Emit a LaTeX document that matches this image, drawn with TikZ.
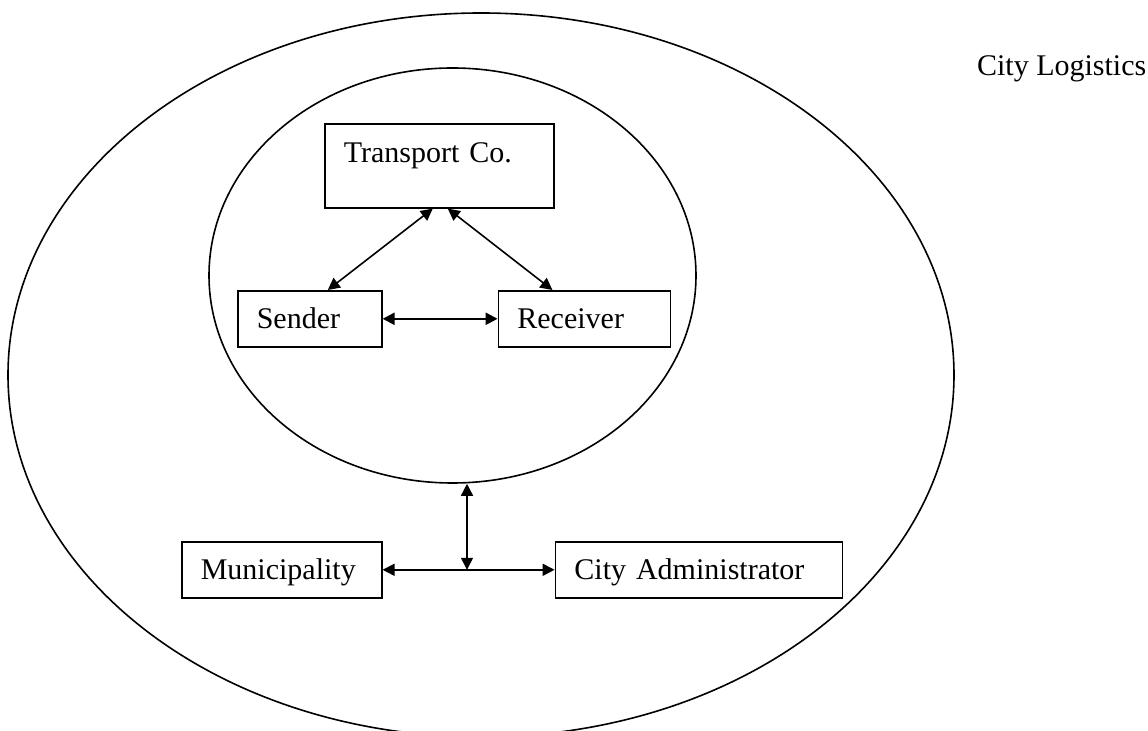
\documentclass[tikz,border=0pt]{standalone}
\usepackage{fontspec}
\setmainfont{Liberation Serif}
\usetikzlibrary{arrows.meta,shapes.geometric,positioning}
\tikzset{
    actor-box/.style = {draw, rectangle, line width=0.8pt, anchor=north west, align=left, inner xsep=9.5pt, inner ysep=0pt, text height=19pt, text depth=9pt},
    zone-ellipse/.style = {draw, ellipse, line width=0.8pt, inner sep=0pt},
    link-arrow/.style = {<->, >={Triangle[length=6pt,width=6pt]}, line width=0.8pt},
}

\begin{document}
\begin{tikzpicture}[x=0.5pt, y=-0.5pt, font=\fontsize{15}{18}\selectfont]
\useasboundingbox (0,0) rectangle (1148,731);
\clip (0,0) rectangle (1148,731);
\node[zone-ellipse, minimum width=473pt, minimum height=362pt] (outer) at (481,375) {};
\node[zone-ellipse, minimum width=243.5pt, minimum height=207.5pt] (inner) at (452.5,275.5) {};
\node[anchor=base west] (title) at (970,76) {City Logistics};
\node[actor-box, text width=95.5pt, text height=19.5pt, text depth=22.5pt] (transport) at (324,123) {Transport Co.};
\node[actor-box, text width=53pt] (sender) at (237,290) {Sender};
\node[actor-box, text width=67pt, right=57.5pt of sender] (receiver) {Receiver};
\node[actor-box, text width=81pt] (municipality) at (181,541) {Municipality};
\node[actor-box, text width=124.5pt, right=86pt of municipality] (cityadmin) {City Administrator};
\path ([xshift=7.25pt]inner.south) coordinate (gap);
\coordinate (hub) at (gap |- municipality.east);
\draw[link-arrow] ([xshift=-3.25pt]transport.south) -- ([xshift=9pt]sender.north);
\draw[link-arrow] ([xshift=4.25pt]transport.south) -- ([xshift=-16pt]receiver.north);
\draw[link-arrow, line width=1.1pt] (sender) -- (receiver);
\draw[link-arrow] (municipality) -- (cityadmin);
\draw[link-arrow] (hub) -- (gap);
\end{tikzpicture}
\end{document}
